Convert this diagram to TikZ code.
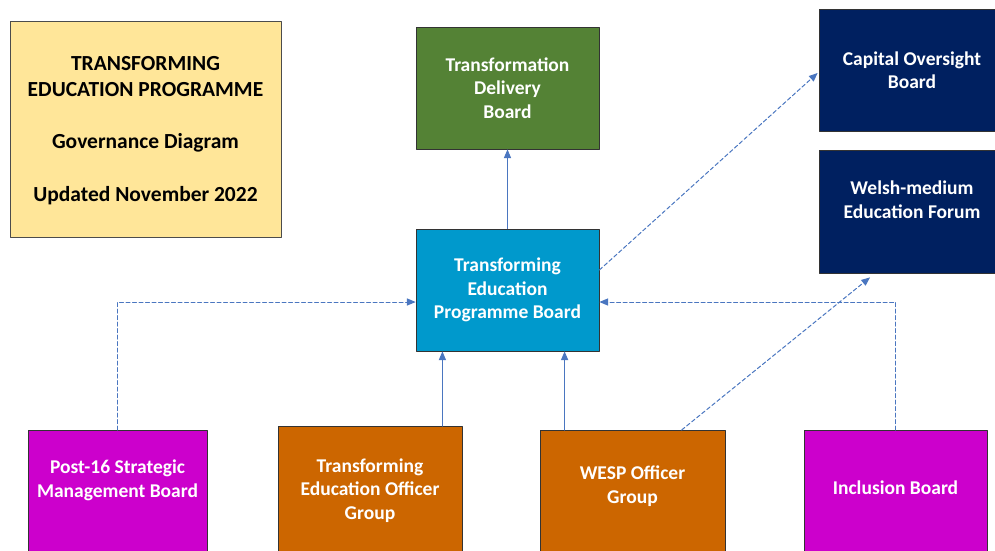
\documentclass[tikz,border=0pt]{standalone}
\usepackage{fontspec}
\setmainfont{Carlito}
\usepackage{tikz}
\usetikzlibrary{arrows}
\definecolor{ffeaa0}{RGB}{255,230,153}
\definecolor{tdbgreen}{RGB}{84,130,53}
\definecolor{navyblue}{RGB}{0,32,96}
\definecolor{tepblue}{RGB}{0,153,204}
\definecolor{ccoocc}{RGB}{204,0,204}
\definecolor{ccsixoo}{RGB}{204,102,0}
\definecolor{linkblue}{RGB}{74,118,192}
\tikzstyle{every node}=[font=\bfseries\fontsize{19.5}{23.5}\selectfont]
\tikzstyle{board}=[draw=black!80,line width=0.8pt,text=white,align=center,inner sep=0pt]
\tikzstyle{link}=[->,line width=1pt,color=linkblue]
\tikzstyle{dashlink}=[->,line width=1pt,color=linkblue,dash pattern=on 4pt off 2.5pt]

\begin{document}
\begin{tikzpicture}[line cap=round,line join=round,>=triangle 45,x=1pt,y=-1pt]
            \useasboundingbox (0,0) rectangle (995,550);
            \clip (0,0) rectangle (995,550);
            \node [board,fill=ffeaa0,draw=black!70,text=black,minimum width=271pt,minimum height=216pt,text depth=0pt,font=\bfseries\fontsize{21.5}{25.5}\selectfont] (title) at (145.5,129) {TRANSFORMING\\EDUCATION PROGRAMME\\[27pt]Governance Diagram\\[27pt]Updated November 2022};
            \node [board,fill=tdbgreen,minimum width=183pt,minimum height=122pt] (tdb) at (507.5,88) {Transformation\\Delivery\\Board};
            \node [board,fill=tepblue,minimum width=183pt,minimum height=122pt] (tep) at (507.5,290) {Transforming\\Education\\Programme Board};
            \node [board,fill=navyblue,minimum width=186pt,minimum height=122pt] (cob) at (912,70) {Capital Oversight\\Board};
            \node [board,fill=navyblue,minimum width=186pt,minimum height=123pt,text depth=24pt] (wef) at (912,211.5) {Welsh-medium\\Education Forum};
            \node [board,fill=ccoocc,minimum width=179pt,minimum height=130pt,anchor=north,text depth=34pt] (post) at (117.5,430) {Post-16 Strategic\\Management Board};
            \node [board,fill=ccsixoo,minimum width=184pt,minimum height=134pt,anchor=north,text depth=9pt] (teog) at (370,426) {Transforming\\Education Officer\\Group};
            \node [board,fill=ccsixoo,minimum width=185pt,minimum height=130pt,anchor=north,text depth=22pt] (wesp) at (632.5,430) {WESP Officer\\Group};
            \node [board,fill=ccoocc,minimum width=183pt,minimum height=130pt,anchor=north,text depth=16pt] (incl) at (895.5,430) {Inclusion Board};
            \coordinate (teogtop) at ([xshift=-20pt]teog.north east);
            \coordinate (wesptop) at ([xshift=25pt]wesp.north west);
            \draw [link] (tep.north) -- (tdb.south);
            \draw [link] (teogtop) -- (teogtop |- tep.south);
            \draw [link] (wesptop) -- (wesptop |- tep.south);
            \draw [dashlink] (post.north) |- ([yshift=-12pt]tep.west);
            \draw [dashlink] (incl.north) |- ([yshift=-12pt]tep.east);
            \draw [dashlink] ([yshift=20pt]tep.east) -- ([yshift=-3pt,xshift=-1pt]cob.west);
            \draw [dashlink] ([xshift=142pt]wesp.north west) -- ([xshift=-42pt,yshift=-4pt]wef.south);
            \end{tikzpicture}
\end{document}
